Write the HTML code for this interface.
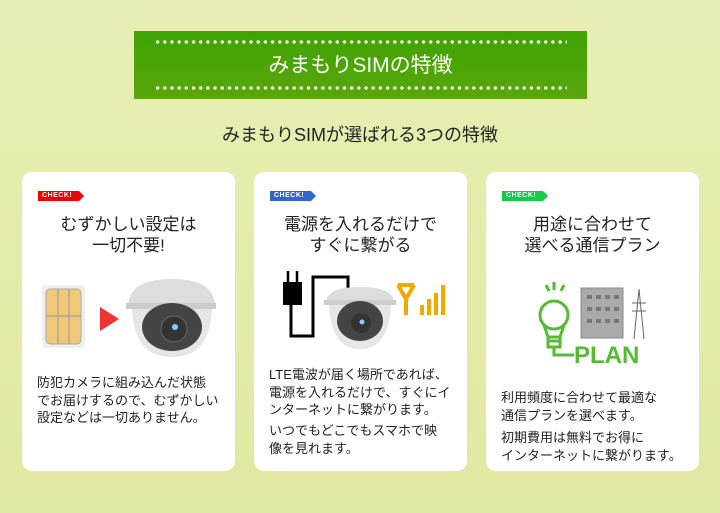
<!DOCTYPE html>
<html><head><meta charset="utf-8"><style>
*{margin:0;padding:0;box-sizing:border-box}
body{width:720px;height:513px;background:linear-gradient(#e9eeb5,#e1e8a0);font-family:"Liberation Sans","Noto Sans CJK JP",sans-serif;position:relative;overflow:hidden;color:#222}
.banner{position:absolute;left:134px;top:31px;width:453px;height:68px;background:linear-gradient(#3ea300,#5aa60c)}
.dots{position:absolute;left:20px;right:20px;height:4px;background:radial-gradient(circle,#fff 1.6px,transparent 2px) 0 0/7.2px 4px repeat-x;opacity:.85}
.banner h1{position:absolute;left:0;right:0;top:18px;text-align:center;color:#fff;font-size:21px;font-weight:normal}
.sub{position:absolute;left:0;right:0;top:121px;text-align:center;font-size:18px}
.card{position:absolute;top:172px;width:213px;height:299px;background:#fff;border-radius:10px}
.chk{position:absolute;left:16px;top:19px;height:10px;width:41px;color:#fff;font-size:7px;font-weight:bold;line-height:10px;padding-left:4px;letter-spacing:.5px}
.chk:after{content:"";position:absolute;right:-5px;top:0;border-left:5px solid;border-top:5px solid transparent;border-bottom:5px solid transparent;border-left-color:inherit}
.t{position:absolute;left:0;right:0;top:42px;text-align:center;font-size:17px;line-height:21px}
.b{position:absolute;left:15px;font-size:13px;line-height:17.5px}
</style></head><body>
<div class="banner"><div class="dots" style="top:9px"></div><h1>みまもりSIMの特徴</h1><div class="dots" style="bottom:9px"></div></div>
<div class="sub">みまもりSIMが選ばれる3つの特徴</div>

<div class="card" style="left:22px">
<div class="chk" style="background:#e00;border-color:#e00">CHECK!</div>
<div class="t">むずかしい設定は<br>一切不要!</div>
<svg style="position:absolute;left:0;top:95px" width="213" height="100">
<rect x="20" y="18" width="43" height="63" rx="4" fill="#eee"/>
<rect x="24" y="22" width="35" height="55" rx="4" fill="#f0c878" stroke="#aaa"/>
<path d="M36 22v55M47 22v55M24 49h35" stroke="#999"/>
<polygon points="78,40 97,52 78,64" fill="#e33"/>
<path d="M106 40 Q106 12 150 12 Q193 12 193 40Z" fill="#ddd"/>
<rect x="104" y="36" width="90" height="6" fill="#ccc"/>
<path d="M110 42 Q112 90 150 90 Q188 90 190 42Z" fill="#e6e6e6"/>
<ellipse cx="150" cy="60" rx="30" ry="24" fill="#444"/>
<circle cx="152" cy="62" r="13" fill="#333" stroke="#666"/>
<circle cx="153" cy="60" r="3" fill="#8cf"/>
</svg>
<div class="b" style="top:202px">防犯カメラに組み込んだ状態<br>でお届けするので、むずかしい<br>設定などは一切ありません。</div>
</div>

<div class="card" style="left:254px">
<div class="chk" style="background:#36c;border-color:#36c">CHECK!</div>
<div class="t">電源を入れるだけで<br>すぐに繋がる</div>
<svg style="position:absolute;left:0;top:95px" width="213" height="100">
<rect x="29" y="15" width="19" height="23" fill="#000"/>
<path d="M34 4v11M43 4v11" stroke="#000" stroke-width="2.5"/>
<path d="M37 38V69H59V10H94V22" stroke="#000" stroke-width="3" fill="none"/>
<path d="M72 36 Q72 20 106 20 Q140 20 140 36Z" fill="#ddd"/>
<rect x="70" y="33" width="72" height="5" fill="#ccc"/>
<path d="M75 38 Q77 82 106 82 Q135 82 137 38Z" fill="#e6e6e6"/>
<ellipse cx="106" cy="54" rx="23" ry="20" fill="#444"/>
<circle cx="107" cy="56" r="10" fill="#333"/><circle cx="108" cy="55" r="2.5" fill="#8cf"/>
<g stroke="#f5a600" stroke-width="4" fill="none"><path d="M144 18l8 14 8-14M144 18h16M152 30v18M168 38v10M175 32v16M182 26v22M189 18v30" stroke-linejoin="round"/></g>
</svg>
<div class="b" style="top:194px">LTE電波が届く場所であれば、<br>電源を入れるだけで、すぐにイ<br>ンターネットに繋がります。</div>
<div class="b" style="top:250px">いつでもどこでもスマホで映<br>像を見れます。</div>
</div>

<div class="card" style="left:486px">
<div class="chk" style="background:#1c4;border-color:#1c4">CHECK!</div>
<div class="t">用途に合わせて<br>選べる通信プラン</div>
<svg style="position:absolute;left:0;top:105px" width="213" height="95">
<g stroke="#5b3" stroke-width="3" fill="none">
<circle cx="68" cy="38" r="14"/><path d="M58 48l4 12h12l4-12M62 60v10h12V60M62 64h12M68 70v8h20M60 8l3 6M68 5v8M78 8l-3 6"/>
</g>
<rect x="95" y="11" width="42" height="50" fill="#aaa" stroke="#888"/>
<g fill="#777"><rect x="101" y="18" width="5" height="4"/><rect x="110" y="18" width="5" height="4"/><rect x="119" y="18" width="5" height="4"/><rect x="128" y="18" width="5" height="4"/><rect x="101" y="30" width="5" height="4"/><rect x="110" y="30" width="5" height="4"/><rect x="119" y="30" width="5" height="4"/><rect x="128" y="30" width="5" height="4"/><rect x="101" y="42" width="5" height="4"/><rect x="110" y="42" width="5" height="4"/><rect x="119" y="42" width="5" height="4"/><rect x="128" y="42" width="5" height="4"/></g>
<path d="M148 62L153 12L158 62M146 26h14M146 34h14" stroke="#666" fill="none"/>
<text x="88" y="86" fill="#5b3" font-size="24" font-family="Liberation Sans" font-weight="bold">PLAN</text>
</svg>
<div class="b" style="top:217px">利用頻度に合わせて最適な<br>通信プランを選べます。</div>
<div class="b" style="top:257px">初期費用は無料でお得に<br>インターネットに繋がります。</div>
</div>
</body></html>
